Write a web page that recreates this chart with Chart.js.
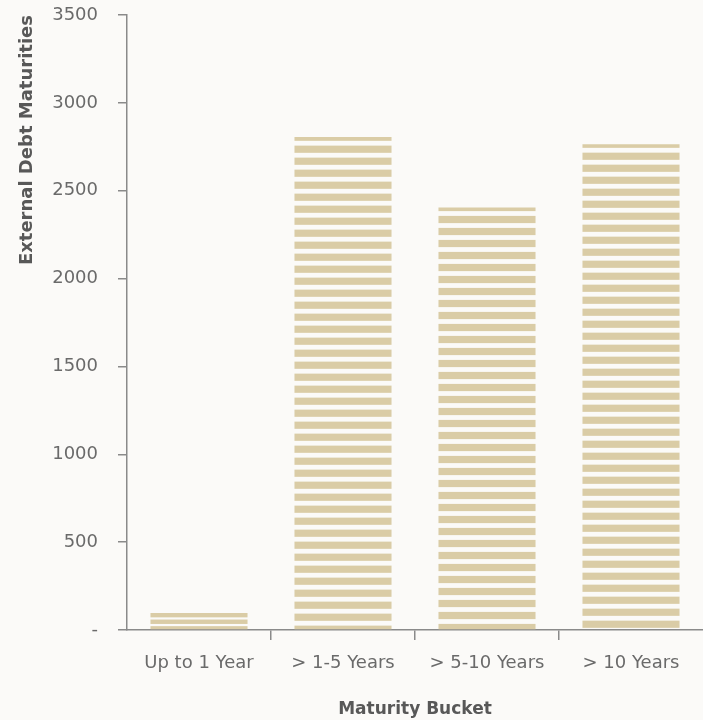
<!DOCTYPE html>
<html>
<head>
<meta charset="utf-8">
<script src="https://cdn.jsdelivr.net/npm/chart.js@4/dist/chart.umd.min.js"></script>
<style>
  html, body { margin: 0; padding: 0; background: #fbfaf8; }
  #wrap { width: 703px; height: 720px; position: relative; }
</style>
</head>
<body>
<div id="wrap"><canvas id="c"></canvas></div>
<script>
// ---- data ----
const categories = ['Up to 1 Year', '> 1-5 Years', '> 5-10 Years', '> 10 Years'];
const maturities = [97, 2805, 2405, 2765];
const yTickValues = [0, 500, 1000, 1500, 2000, 2500, 3000, 3500];
const zeroTickLabel = '-';

// ---- styles ----
const STRIPE_COLOR = '#dacca6';
const AXIS_COLOR = '#8a8a8a';
const TEXT_COLOR = '#6a6a6a';
const TITLE_COLOR = '#585858';
const FONT = "'DejaVu Sans', sans-serif";
// stripe geometry per bar: [period, stripe thickness, offset of first full stripe from bar top]
const stripeStyles = [[6.6, 4.4, 0], [12, 7.2, 8.5], [12, 7.2, 8.5], [12, 7.2, 8.5]];

function stripePattern(chart, topY, st) {
  const [period, stripe, off] = st;
  const h = Math.round(period * 10);
  const c = document.createElement('canvas');
  c.width = 8; c.height = h;
  const g = c.getContext('2d');
  g.fillStyle = STRIPE_COLOR;
  const phase = (((topY + off) % period) + period) % period;
  for (let k = -1; k <= 11; k++) {
    g.fillRect(0, phase + k * period, 8, stripe);
  }
  return chart.ctx.createPattern(c, 'repeat');
}

const ctxEl = document.getElementById('c');
new Chart(ctxEl, {
  type: 'bar',
  data: {
    labels: categories,
    datasets: [{
      label: 'External Debt Maturities',
      data: maturities,
      backgroundColor: (ctx) => {
        const chart = ctx.chart;
        if (ctx.type !== 'data' || !chart.scales || !chart.scales.y) return STRIPE_COLOR;
        const top = chart.scales.y.getPixelForValue(ctx.raw);
        return stripePattern(chart, top, stripeStyles[ctx.dataIndex]);
      },
      borderWidth: 0,
      barPercentage: 0.674,
      categoryPercentage: 1.0
    }]
  },
  options: {
    responsive: true,
    maintainAspectRatio: false,
    animation: false,
    layout: { padding: { top: 15, right: 0, left: 0, bottom: 0 } },
    plugins: {
      legend: { display: false },
      tooltip: { enabled: false }
    },
    scales: {
      x: {
        afterFit: (s) => { s.height = 90; s.paddingLeft = 0; s.paddingRight = 0; },
        grid: {
          display: true,
          offset: true,
          drawOnChartArea: false,
          drawTicks: true,
          tickLength: 10,
          lineWidth: 1.5,
          color: (c) => (c.index >= 1 ? AXIS_COLOR : 'rgba(0,0,0,0)')
        },
        border: { display: true, color: AXIS_COLOR, width: 1.5 },
        ticks: {
          color: TEXT_COLOR,
          font: { family: FONT, size: 18 },
          padding: 13,
          maxRotation: 0,
          autoSkip: false
        },
        title: {
          display: true,
          text: 'Maturity Bucket',
          color: TITLE_COLOR,
          font: { family: FONT, size: 17, weight: 'bold' },
          padding: { top: 0, bottom: 0 }
        }
      },
      y: {
        min: 0,
        max: 3500,
        afterFit: (s) => { s.width = 127; s.paddingTop = 0; s.paddingBottom = 0; },
        afterBuildTicks: (s) => { s.ticks = yTickValues.map(v => ({ value: v })); },
        grid: {
          display: true,
          drawOnChartArea: false,
          drawTicks: true,
          tickLength: 9,
          lineWidth: 1.5,
          color: AXIS_COLOR
        },
        border: { display: true, color: AXIS_COLOR, width: 1.5 },
        ticks: {
          color: TEXT_COLOR,
          font: { family: FONT, size: 18 },
          padding: 20,
          callback: (v) => (v === 0 ? zeroTickLabel : String(v))
        },
        title: {
          display: true,
          text: 'External Debt Maturities',
          align: 'end',
          color: TITLE_COLOR,
          font: { family: FONT, size: 18, weight: 'bold' },
          padding: { top: 17, bottom: 0 }
        }
      }
    }
  }
});
</script>
</body>
</html>
